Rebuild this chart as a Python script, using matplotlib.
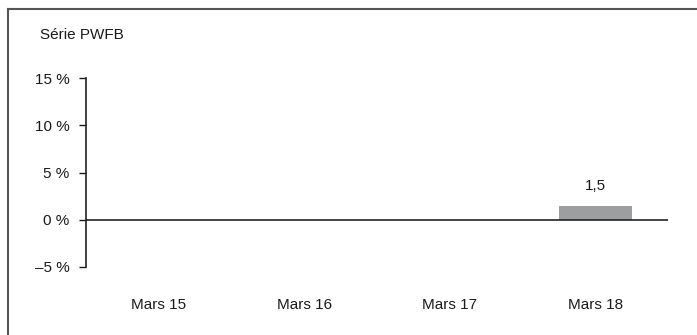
import matplotlib.pyplot as plt
from matplotlib.lines import Line2D

# Data
categories = ['Mars 15', 'Mars 16', 'Mars 17', 'Mars 18']
values = [0.0, 0.0, 0.0, 1.5]
value_labels = ['', '', '', '1,5']
yticks = [-5, 0, 5, 10, 15]
ytick_labels = ['\u20135 %', '0 %', '5 %', '10 %', '15 %']
title = 'Série PWFB'

plt.rcParams['font.family'] = ['Liberation Sans Narrow', 'Liberation Sans', 'DejaVu Sans']
plt.rcParams['font.size'] = 11

fig = plt.figure(figsize=(6.97, 3.35), dpi=100)
ax = fig.add_axes([0.1234, 0.203, 0.8350, 0.564])

x = range(len(categories))
bars = ax.bar(x, values, width=0.5, color='#9c9e9f', zorder=2)
for b, lab in zip(bars, value_labels):
    if lab:
        ax.text(b.get_x() + b.get_width() / 2, b.get_height() + 1.3, lab,
                ha='center', va='bottom', fontsize=11, color='#1a1a1a')

ax.axhline(0, color='#222222', linewidth=1.2, zorder=3)

ax.set_xlim(-0.5, len(categories) - 0.5)
ax.set_ylim(-5, 15)
ax.set_yticks(yticks)
ax.set_yticklabels(ytick_labels)
ax.set_xticks(list(x))
ax.set_xticklabels(categories)
ax.tick_params(axis='x', length=0, pad=22, labelsize=11, colors='#1a1a1a')
ax.tick_params(axis='y', length=5, width=1, pad=7, labelsize=11, colors='#1a1a1a')

for s in ['top', 'right', 'bottom']:
    ax.spines[s].set_visible(False)
ax.spines['left'].set_color('#222222')
ax.spines['left'].set_linewidth(1.2)

fig.text(40 / 697, 1 - 35 / 335, title, ha='left', va='center', fontsize=11, color='#1a1a1a')

# Frame lines (top and left)
fig.add_artist(Line2D([8 / 697, 1.0], [1 - 9 / 335, 1 - 9 / 335], color='#555555', linewidth=1.5))
fig.add_artist(Line2D([8 / 697, 8 / 697], [0, 1 - 9 / 335], color='#555555', linewidth=1.5))

fig.savefig('out.png', dpi=100)
